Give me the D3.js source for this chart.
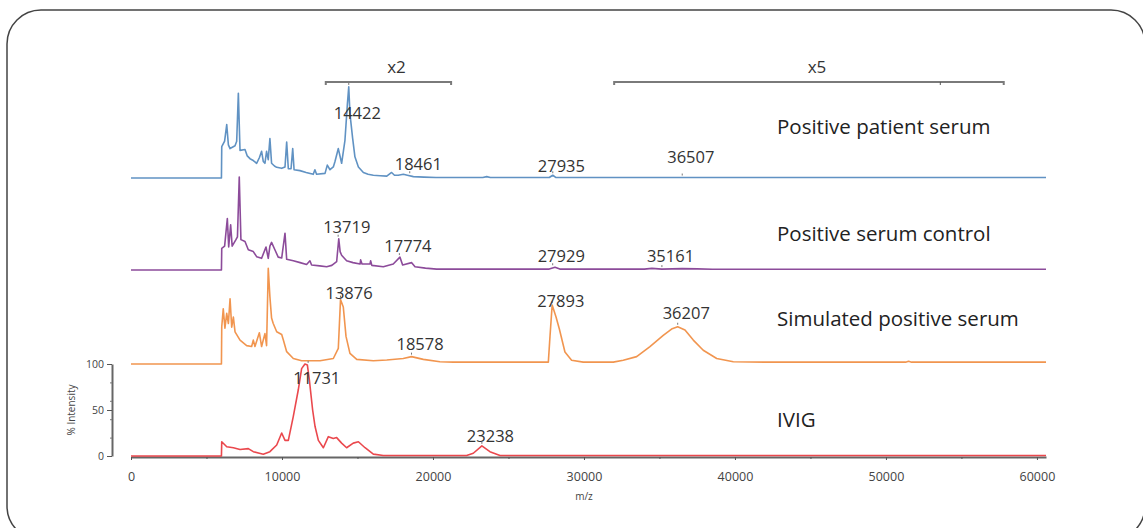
<!DOCTYPE html>
<html>
<head>
<meta charset="utf-8">
<script src="https://cdn.jsdelivr.net/npm/d3@7"></script>
<style>
  html, body { margin: 0; padding: 0; background: #fff; }
  svg { display: block; font-family: "Open Sans", "Noto Sans", sans-serif; }
</style>
</head>
<body>
<div id="chart"></div>
<script>
// m/z vs % intensity, four stacked spectra
var traceNames = ["Positive patient serum", "Positive serum control", "Simulated positive serum", "IVIG"];

var patientSerum = [[0,0],[5990,0],[6010,34],[6200,40],[6340,58],[6450,36],[6560,32],[6890,35],[7000,40],[7110,92],[7220,30],[7550,31],[7700,24],[7880,21],[8100,19],[8320,16],[8500,22],[8650,29],[8760,18],[8870,16],[8980,29],[9090,20],[9200,43],[9310,16],[9500,13],[9650,11.6],[9980,10.5],[10200,12],[10310,39],[10420,10],[10600,10],[10710,32],[10800,9],[11190,8],[11600,6],[12070,4],[12180,9],[12290,4],[12850,5],[13000,14],[13180,9],[13400,12],[13510,18],[13730,32],[13950,16],[14170,41],[14330,80],[14422,99],[14500,70],[14680,43],[14830,23],[15060,12],[15390,6],[15700,4],[16050,3],[16500,2.5],[16940,2],[17260,6],[17450,3],[17700,3],[18040,4],[18300,3],[18700,1.5],[19400,1],[20200,0.5],[23300,0.5],[23560,1.5],[23800,0.5],[27700,0.5],[27935,3],[28150,0.5],[60600,0.5]];

var serumControl = [[0,0],[5990,0],[6010,23.6],[6200,26],[6380,56],[6470,25],[6600,49],[6700,26],[6950,33],[7050,36],[7170,101],[7280,33],[7550,31],[7770,22],[8100,20],[8320,14.5],[8650,12.7],[8940,25],[9090,12.7],[9200,26],[9310,30],[9530,22],[9750,14],[9980,13],[10200,40],[10310,11.6],[10750,10],[11200,8],[11630,6],[11850,10],[11960,5.4],[12500,4.5],[12960,3.6],[13300,5],[13620,9],[13760,34],[13850,20],[13950,16],[14280,10],[14700,8],[15170,6.5],[15210,11],[15300,6.5],[15830,6.5],[15870,10],[15950,5],[16710,3.6],[17370,6.5],[17810,14],[17990,5.4],[18590,8],[18810,3.6],[19500,2],[20240,1],[27700,1],[28080,3],[28400,1],[34000,1],[34500,1.8],[35161,1],[36500,1.5],[37500,1.2],[38500,0.8],[60600,0.8]];

var simulatedSerum = [[0,0],[5990,0],[6010,40.5],[6110,60],[6220,39],[6340,55],[6450,44],[6560,71],[6670,40],[6780,51],[6890,35],[7220,26],[7660,20],[7990,19],[8100,26],[8210,19],[8500,34],[8650,19],[8870,33],[8980,20],[9090,104],[9200,73],[9310,50],[9420,44],[9650,35],[9980,32],[10090,26],[10310,13.4],[10750,6],[11300,3.6],[12520,3.6],[13400,6],[13730,17],[13876,70],[14060,62],[14240,30],[14500,11.6],[14950,5],[16050,3.6],[16940,4.3],[18030,6],[18578,8],[19360,5],[20460,2.5],[21340,2],[27640,2],[27750,30],[27893,64],[28150,51],[28370,38],[28740,13],[29180,4],[29950,2],[31940,2],[32600,4],[33490,8],[34370,19],[35250,31],[35800,38],[36207,40.5],[36690,37],[37240,26],[37900,15],[38790,6],[39890,2.5],[42000,2],[51300,2],[51500,3],[51700,2],[60600,2]];

var ivig = [[0,0],[5990,0],[6010,15.5],[6340,10],[6780,9],[7220,7],[7770,8],[8100,4.7],[8760,2],[9200,4.7],[9650,12],[9980,25],[10200,17],[10420,17],[10750,43],[11080,72],[11300,95],[11520,100],[11680,99],[11810,83],[12030,50],[12190,32],[12410,17],[12740,9],[13070,21],[13400,19],[13620,20],[13950,14],[14280,9],[14720,14],[15060,15.5],[15500,9],[16050,2],[16710,0.5],[22230,0.5],[22670,3],[23238,11],[23770,4.7],[24440,0.5],[60600,0.5]];

var peakLabels = [
    [14422, 18461, 27935, 36507],
    [13719, 17774, 27929, 35161],
    [13876, 18578, 27893, 36207],
    [11731, 23238]
];

var xTicks = [0, 10000, 20000, 30000, 40000, 50000, 60000];
var xMinorTicks = [5000, 15000, 25000, 35000, 45000, 55000];
var yTicks = [0, 50, 100];

// magnified ranges: [label, from, to, inner tick]
var zoomRanges = [["x2", 12900, 21200, null], ["x5", 32000, 57800, 53600]];

(function() {
    var W = 1143, H = 528;
    var series = [patientSerum, serumControl, simulatedSerum, ivig];
    var colors = ["#4f86bd", "#80378f", "#f08a3c", "#e8343a"];

    // layout bits (pixels)
    var baselines = [178, 270, 364, 456];
    var nameLift = [44, 29, 38, 29];
    var labelLift = [[64, 9, 6.5, 16], [40, 20, 9, 9], [71, 15, 62, 49], [78, 15]];

    var svg = d3.select("#chart").append("svg")
        .attr("width", W)
        .attr("height", H);

    svg.append("rect")
        .attr("x", 7).attr("y", 10)
        .attr("width", 1138).attr("height", 530)
        .attr("rx", 34).attr("ry", 34)
        .attr("fill", "none")
        .attr("stroke", "#444")
        .attr("stroke-width", 1.5);

    var x = d3.scaleLinear().domain([0, 60600]).range([131, 1046]);
    // intensity -> px above a baseline
    var h = d3.scaleLinear().domain([0, 100]).range([0, 92]);
    var yIvig = d3.scaleLinear().domain([0, 100]).range([baselines[3], baselines[3] - 92]);

    // axes
    var xAxis = svg.append("g")
        .attr("transform", "translate(0," + 457 + ")")
        .call(d3.axisBottom(x).tickValues(xTicks).tickSize(3).tickSizeOuter(0).tickPadding(12)
            .tickFormat(d3.format("d")));
    xAxis.select(".domain").attr("stroke", "#666").attr("stroke-width", 2);
    xAxis.selectAll(".tick line").attr("stroke", "#555");
    xAxis.selectAll("text").attr("font-size", 12.5).attr("fill", "#444")
        .attr("font-family", "'Open Sans', sans-serif");

    var xMinor = svg.append("g")
        .attr("transform", "translate(0," + 457 + ")")
        .call(d3.axisBottom(x).tickValues(xMinorTicks).tickSize(2).tickFormat(""));
    xMinor.select(".domain").remove();
    xMinor.selectAll(".tick line").attr("stroke", "#555");

    var yAxis = svg.append("g")
        .attr("transform", "translate(112,0)")
        .call(d3.axisLeft(yIvig).tickValues(yTicks).tickSize(5).tickSizeOuter(0).tickPadding(3));
    yAxis.select(".domain").attr("stroke", "#666").attr("stroke-width", 2);
    yAxis.selectAll(".tick line").attr("stroke", "#555");
    yAxis.selectAll("text").attr("font-size", 10.5).attr("fill", "#444")
        .attr("font-family", "'Open Sans', sans-serif");

    var yMinor = svg.append("g")
        .attr("transform", "translate(112,0)")
        .call(d3.axisLeft(yIvig).tickValues([20, 40, 60, 80]).tickSize(2).tickFormat(""));
    yMinor.select(".domain").remove();
    yMinor.selectAll(".tick line").attr("stroke", "#777");

    svg.append("text")
        .attr("transform", "translate(75," + 410 + ") rotate(-90)")
        .attr("text-anchor", "middle")
        .attr("font-size", 10)
        .attr("fill", "#444")
        .text("% Intensity");

    svg.append("text")
        .attr("x", x(30000))
        .attr("y", 500)
        .attr("text-anchor", "middle")
        .attr("font-size", 10)
        .attr("fill", "#444")
        .text("m/z");

    // spectra
    var line = d3.line()
        .x(function(d) { return x(d[0]); })
        .y(function(d) { return -h(d[1]); });

    // intensity of a series at the point nearest to m/z
    function valueAt(s, mz) {
        var best = s[0];
        s.forEach(function(p) { if (Math.abs(p[0] - mz) < Math.abs(best[0] - mz)) best = p; });
        return best[1];
    }

    series.forEach(function(s, i) {
        var g = svg.append("g").attr("transform", "translate(0," + baselines[i] + ")");

        g.append("path")
            .datum(s)
            .attr("d", line)
            .attr("fill", "none")
            .attr("stroke", colors[i])
            .attr("stroke-width", 1.6)
            .attr("stroke-linejoin", "round")
            .attr("stroke-opacity", 0.9);

        // little peak markers
        g.selectAll("line.mark")
            .data(peakLabels[i])
            .enter().append("line")
            .attr("class", "mark")
            .attr("x1", function(d) { return x(d); })
            .attr("x2", function(d) { return x(d); })
            .attr("y1", function(d) { return -h(valueAt(s, d)) - 2; })
            .attr("y2", function(d) { return -h(valueAt(s, d)) - 4; })
            .attr("stroke", "#777")
            .attr("stroke-width", 1);

        g.selectAll("text.peak")
            .data(peakLabels[i])
            .enter().append("text")
            .attr("class", "peak")
            .attr("x", function(d) { return x(d) - 15; })
            .attr("y", function(d, j) { return -h(labelLift[i][j]); })
            .attr("font-size", 16.5)
            .attr("fill", "#333")
            .text(function(d) { return d; });

        svg.append("text")
            .attr("x", 777)
            .attr("y", baselines[i] - nameLift[i])
            .attr("font-size", 20.5)
            .attr("fill", "#222")
            .text(traceNames[i]);
    });

    // magnification brackets
    var bracketY = 82;
    zoomRanges.forEach(function(r) {
        var g = svg.append("g");
        var pts = [[x(r[1]), bracketY + 3], [x(r[1]), bracketY], [x(r[2]), bracketY], [x(r[2]), bracketY + 3]];
        g.append("path")
            .attr("d", d3.line()(pts))
            .attr("fill", "none")
            .attr("stroke", "#7a7a7a")
            .attr("stroke-width", 2);
        if (r[3] !== null) {
            g.append("line")
                .attr("x1", x(r[3])).attr("x2", x(r[3]))
                .attr("y1", bracketY).attr("y2", bracketY + 3)
                .attr("stroke", "#555").attr("stroke-width", 1);
        }
        g.append("text")
            .attr("x", x((r[1] + r[2]) / 2) + 8)
            .attr("y", bracketY - 9)
            .attr("text-anchor", "middle")
            .attr("font-size", 17)
            .attr("fill", "#333")
            .text(r[0]);
    });
})();
</script>
</body>
</html>
